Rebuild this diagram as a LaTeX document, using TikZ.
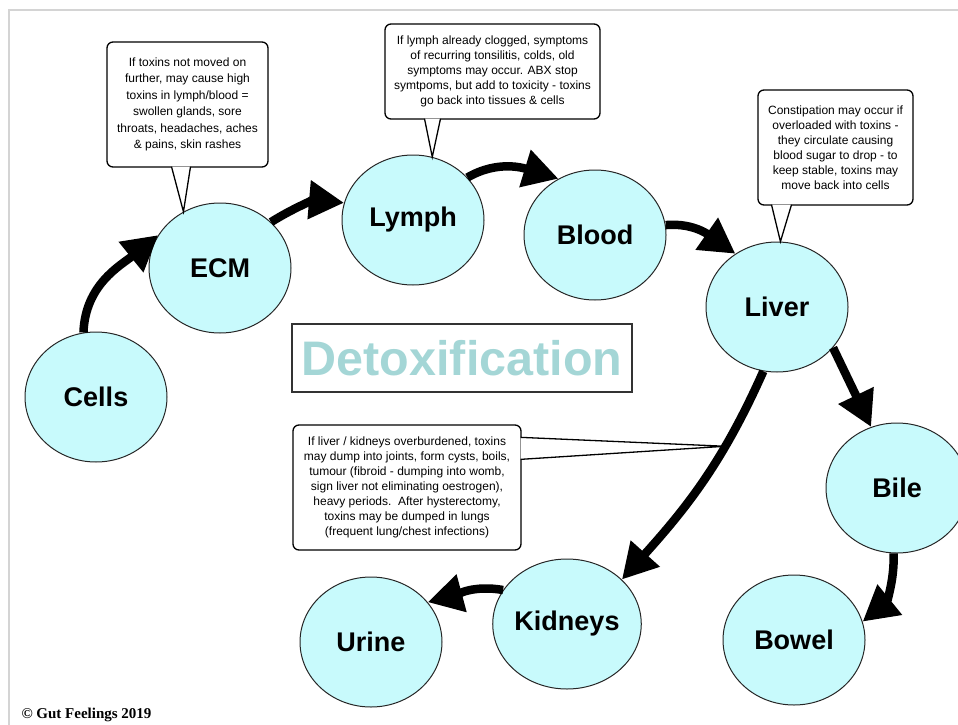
\documentclass[tikz,border=0pt]{standalone}
\usepackage{fontspec}
\setmainfont{Liberation Sans}
\newfontfamily\copyfont{Liberation Serif}
\usepackage{tikz}
\usetikzlibrary{arrows.meta}
\usetikzlibrary{shapes.geometric}
\usetikzlibrary{calc}

\definecolor{organblue}{RGB}{200,250,252}
\definecolor{detoxblue}{RGB}{164,214,214}
\definecolor{framegrey}{RGB}{212,212,212}

\tikzset{
	organ/.style={ellipse, draw=black!85, line width=1pt, fill=organblue, minimum width=142pt, minimum height=130pt, inner sep=0pt, font=\fontsize{27}{30}\selectfont\bfseries},
	note/.style={rectangle, rounded corners=6pt, draw=black, line width=1.3pt, fill=white, align=center, inner sep=0pt, font=\fontsize{12}{15}\selectfont},
	flow/.style={line width=8.5pt, -{Triangle[length=35pt,width=37pt]}},
	pointer/.style={line width=1.3pt, line join=miter}
}

\begin{document}
\begin{tikzpicture}[x=1pt, y=-1pt]
		\useasboundingbox (0, 0) rectangle (958, 725);
		\draw[framegrey, line width=1.5pt] (9, 725) -- (9, 10) -- (958, 10);

		% organs
		\node[organ] (cells) at (96, 397) {Cells};
		\node[organ] (ecm) at (220, 268) {ECM};
		\node[organ] (lymph) at (413, 220) {Lymph};
		\node[organ] (blood) at (595, 235) {Blood};
		\node[organ] (liver) at (777, 307) {Liver};
		\node[organ] (bile) at (897, 488) {Bile};
		\node[organ] (bowel) at (794, 640) {Bowel};
		\node[organ] (kidneys) at (567, 624) {Kidneys};
		\node[organ] (urine) at (371, 642) {Urine};

		\node[rectangle, draw=black!80, line width=1.3pt, minimum width=340pt, minimum height=68pt, text=detoxblue, font=\fontsize{48.5}{50}\selectfont\bfseries] (title) at (462, 358) {Detoxification};

		% notes
		\node[note, minimum width=161pt, minimum height=125pt, font=\fontsize{12}{16.5}\selectfont] (ecmnote) at (187.5, 104.5) {If toxins not moved on\\further, may cause high\\toxins in lymph/blood =\\swollen glands, sore\\throats, headaches, aches\\\& pains, skin rashes};
		\fill[white] ($(ecmnote.south)+(-16, -1)$) -- (ecm.123) -- ($(ecmnote.south)+(3, -1)$) -- cycle;
		\draw[pointer] ($(ecmnote.south)+(-16, -1)$) -- (ecm.123) -- ($(ecmnote.south)+(3, -1)$);

		\node[note, minimum width=215pt, minimum height=95pt] (lymphnote) at (492.5, 71.5) {If lymph already clogged, symptoms\\of recurring tonsilitis, colds, old\\symptoms may occur. ABX stop\\symtpoms, but add to toxicity - toxins\\go back into tissues \& cells};
		\fill[white] ($(lymphnote.south)+(-68, -1)$) -- (lymph.73) -- ($(lymphnote.south)+(-52, -1)$) -- cycle;
		\draw[pointer] ($(lymphnote.south)+(-68, -1)$) -- (lymph.73) -- ($(lymphnote.south)+(-52, -1)$);

		\node[note, minimum width=155pt, minimum height=115pt] (livernote) at (835.5, 147.5) {Constipation may occur if\\overloaded with toxins -\\they circulate causing\\blood sugar to drop - to\\keep stable, toxins may\\move back into cells};
		\fill[white] ($(livernote.south)+(-64, -1)$) -- (liver.87) -- ($(livernote.south)+(-44, -1)$) -- cycle;
		\draw[pointer] ($(livernote.south)+(-64, -1)$) -- (liver.87) -- ($(livernote.south)+(-44, -1)$);

		\node[note, minimum width=228pt, minimum height=125pt] (dumpnote) at (407, 487.5) {If liver / kidneys overburdened, toxins\\may dump into joints, form cysts, boils,\\tumour (fibroid - dumping into womb,\\sign liver not eliminating oestrogen),\\heavy periods.\ \ After hysterectomy,\\toxins may be dumped in lungs\\(frequent lung/chest infections)};

		% flow
		\draw[flow] (cells.101) to[out=88, in=219] (ecm.152);
		\draw[flow] (ecm.42) to[out=32, in=175] (lymph.166);
		\draw[flow] (lymph.38) to[out=30, in=163] (blood.123);
		\draw[flow] (blood.8) to[out=5, in=145] (liver.128);
		\draw[flow] (liver.-36) -- (bile.113);
		\draw[flow] (bile.-93) to[out=-88, in=39] (bowel.15);
		\draw[flow] (liver.-102) to[out=-114, in=48] coordinate[pos=0.32] (dump) (kidneys.39);
		\draw[flow] (kidneys.152) to[out=170, in=15] (urine.35);

		\fill[white] ($(dumpnote.north east)+(-1, 13)$) -- (dump) -- ($(dumpnote.north east)+(-1, 35)$) -- cycle;
		\draw[pointer] ($(dumpnote.north east)+(-1, 13)$) -- (dump) -- ($(dumpnote.north east)+(-1, 35)$);

		\node[anchor=base west, font=\fontsize{15}{17}\selectfont\copyfont\bfseries] (copyright) at (18, 718) {© Gut Feelings 2019};
	\end{tikzpicture}
\end{document}
